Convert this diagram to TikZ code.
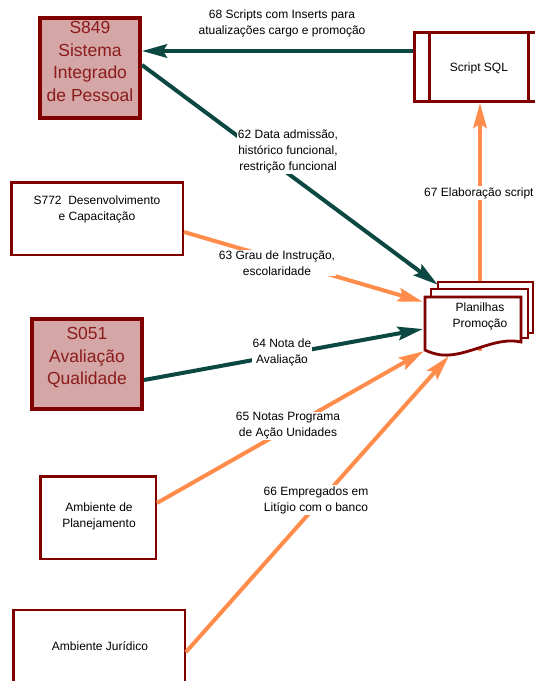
\documentclass[tikz,border=0pt]{standalone}
\usepackage{fontspec}
\setmainfont{Liberation Sans}
\usetikzlibrary{arrows.meta,calc}
\definecolor{tealA}{RGB}{12,72,66}
\definecolor{orgA}{RGB}{255,140,75}
\definecolor{dredA}{RGB}{128,0,0}
\definecolor{pinkA}{RGB}{212,166,166}
\definecolor{rtextA}{RGB}{140,28,28}
\begin{document}
\begin{tikzpicture}[x=1pt,y=-1pt,
 sysbox/.style={draw=dredA, line width=4pt, fill=pinkA, inner sep=0pt},
 extbox/.style={draw=dredA, line width=2.5pt, fill=white, inner sep=0pt},
 systext/.style={text=rtextA, font=\fontsize{17.5}{22.5}\selectfont, align=center, inner sep=0pt},
 boxtext/.style={font=\fontsize{12}{16}\selectfont, align=center, inner sep=0pt},
 lbl/.style={font=\fontsize{12}{16}\selectfont, align=center, fill=white, inner sep=1pt},
 headA/.style={-{Stealth[length=25pt,width=13.5pt,inset=4pt]}},
 tealarrow/.style={draw=tealA, line width=4pt, headA},
 orgarrow/.style={draw=orgA, line width=4pt, headA},
 docshape/.style={draw=dredA, line width=2.8pt, fill=white, line join=miter},
]
\useasboundingbox (0,0) rectangle (535,681);
\clip (0,0) rectangle (535,681);

% boxes
\node[sysbox, minimum width=100pt, minimum height=100pt] (s849) at (90,68) {};
\node[systext] (s849t) at (90,61.5) {S849\\Sistema\\Integrado\\de Pessoal};

\node[extbox, minimum width=171.5pt, minimum height=72.5pt] (s772) at (97,218.5) {};
\node[boxtext] (s772t) at (97,209) {S772\ \ Desenvolvimento\\e Capacitação};

\node[sysbox, minimum width=110pt, minimum height=90pt] (s051) at (87,364) {};
\node[systext] (s051t) at (87,358) {S051\\Avaliação\\Qualidade};

\node[extbox, minimum width=115.5pt, minimum height=82.5pt] (amb1) at (98,517.5) {};
\node[boxtext] (amb1t) at (99,516) {Ambiente de\\Planejamento};

\node[extbox, minimum width=171.5pt, minimum height=100pt] (amb2) at (99,660) {};
\node[boxtext] (amb2t) at (100,646) {Ambiente Jurídico};

\node[extbox, line width=3pt, minimum width=128pt, minimum height=69pt] (sql) at (478.5,67) {};
\draw[dredA, line width=3pt] ([xshift=16pt]sql.north west) -- ([xshift=16pt]sql.south west);
\draw[dredA, line width=3pt] ([xshift=-16pt]sql.north east) -- ([xshift=-16pt]sql.south east);
\node[boxtext] (sqlt) at (479,68) {Script SQL};

\node[minimum width=96pt, minimum height=54pt, inner sep=0pt] (plan) at (473,324) {};

% arrows
\draw[tealarrow] ([yshift=16pt]sql.west) -- ([yshift=17pt]s849.east);
\draw[tealarrow] ([yshift=3pt]s849.east) -- ([xshift=13pt,yshift=12pt]plan.north west);
\draw[orgarrow] ([yshift=-13.5pt]s772.east) -- ([xshift=-2pt,yshift=-5pt]plan.north west);
\draw[tealarrow] ([yshift=-16pt]s051.east) -- ([xshift=-2pt,yshift=-5pt]plan.west);
\draw[orgarrow] ([yshift=14.5pt]amb1.east) -- ([xshift=-1pt]plan.south west);
\draw[orgarrow] ([yshift=8pt]amb2.east) -- ([xshift=24pt,yshift=-5pt]plan.south west);
\draw[orgarrow] ([xshift=7pt]plan.south) -- ([xshift=1.5pt]sql.south);

% multi-document shape
\draw[docshape] (438,282) -- (533,282) -- (533,333) -- (438,333) -- cycle;
\draw[docshape] (431,289) -- (528,289) -- (528,338) -- (431,338) -- cycle;
\draw[docshape] (425,297) -- (521,297) -- (521,342)
  .. controls (495,336) and (468,357) .. (442,355)
  .. controls (434,354) and (429,352) .. (425,350) -- cycle;
\node[boxtext] (plant) at (480,316) {Planilhas\\Promoção};

% labels
\node[lbl, fill=none] (l68) at (282,23) {68 Scripts com Inserts para\\atualizações cargo e promoção};
\node[lbl] (l62) at (288,151) {62 Data admissão,\\histórico funcional,\\restrição funcional};
\node[lbl] (l63) at (277,263) {63 Grau de Instrução,\\escolaridade};
\node[lbl] (l64) at (282,352) {64 Nota de\\Avaliação};
\node[lbl] (l65) at (288,426) {65 Notas Programa\\de Ação Unidades};
\node[lbl] (l66) at (316,500) {66 Empregados em\\Litígio com o banco};
\node[lbl, anchor=west] (l67) at (423,193) {67 Elaboração script};
\end{tikzpicture}
\end{document}
